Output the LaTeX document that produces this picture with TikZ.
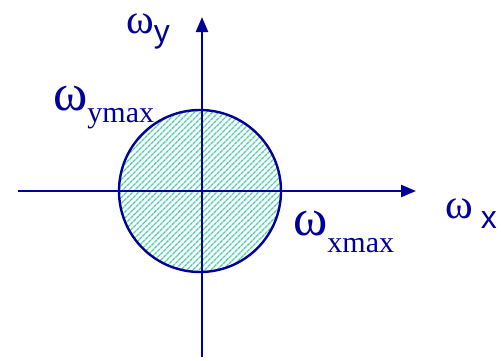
\documentclass[tikz,border=0pt]{standalone}
\usepackage{fontspec}
\setmainfont{Liberation Serif}
\setsansfont{Liberation Sans}
\usepackage{tikz}
\usetikzlibrary{arrows.meta,patterns.meta}
\definecolor{axisNavy}{RGB}{0,0,153}
\definecolor{hatchTeal}{RGB}{72,210,164}
\tikzset{
  axisline/.style={axisNavy, line width=2.4pt, -{Triangle[length=15pt,width=12pt]}},
  lbl/.style={anchor=base west, inner sep=0pt, text=axisNavy},
}
\newcommand{\bigw}{\fontsize{52}{52}\selectfont ω}
\newcommand{\smallw}{\fontsize{42}{42}\selectfont ω}
\newcommand{\subtxt}[2]{\raisebox{#1}{\fontsize{30}{30}\selectfont #2}}

\begin{document}
\begin{tikzpicture}[x=1pt,y=-1pt]
\useasboundingbox (0,0) rectangle (501,360);
\coordinate (O) at (200,191);

% shaded disc
\fill[pattern={Lines[angle=45,distance=4pt,line width=1.5pt]}, pattern color=hatchTeal] (O) circle (81);
\draw[axisNavy, line width=2.4pt] (O) circle (81);

% axes
\coordinate (xl) at (18,191);
\coordinate (xr) at (416,191);
\coordinate (yb) at (202,357);
\coordinate (yt) at (202,17);
\draw[axisline] (xl) -- (xr);
\draw[axisline] (yb) -- (yt);

% labels
\node[lbl] (wy) at (126,33) {\smallw\subtxt{-9pt}{\sffamily\fontsize{32}{32}\selectfont y}};
\node[lbl] (wymax) at (53,110) {\bigw\subtxt{-12pt}{ymax}};
\node[lbl] (wx) at (445,218) {\smallw\hspace{8pt}\subtxt{-10pt}{\sffamily\fontsize{32}{32}\selectfont x}};
\node[lbl] (wxmax) at (293,235) {\bigw\subtxt{-17pt}{xmax}};
\end{tikzpicture}
\end{document}
